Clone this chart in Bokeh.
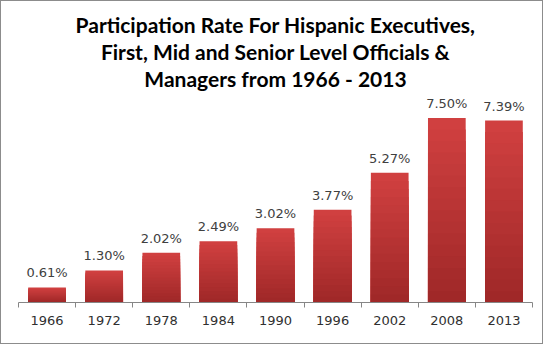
from bokeh.plotting import figure
from bokeh.models import ColumnDataSource, LabelSet, FixedTicker, Range1d, Title
from bokeh.core.properties import value
from bokeh.embed import file_html
from bokeh.resources import INLINE

years = ["1966", "1972", "1978", "1984", "1990", "1996", "2002", "2008", "2013"]
rates = [0.61, 1.30, 2.02, 2.49, 3.02, 3.77, 5.27, 7.50, 7.39]
rate_labels = ["0.61%", "1.30%", "2.02%", "2.49%", "3.02%", "3.77%", "5.27%", "7.50%", "7.39%"]

title_lines = ["Participation Rate For Hispanic Executives,",
               "First, Mid and Senior Level Officials &",
               "Managers from 1966 - 2013"]

W, H = 543, 344
B_BOT = 43
PX_PER_UNIT = 24.5
est_frame_top = 90
y_end = (H - B_BOT - est_frame_top) / PX_PER_UNIT

xs = [i + 0.5 for i in range(len(years))]
src = ColumnDataSource(dict(x=xs, rate=rates, label=rate_labels))

p = figure(width=W, height=H, output_backend="svg", toolbar_location=None,
           x_range=Range1d(0, len(years)), y_range=Range1d(0, y_end),
           y_axis_location=None,
           min_border_left=17, min_border_right=12, min_border_bottom=B_BOT,
           min_border_top=0)
p.styles = {"border": "1px solid #8c8c8c"}
p.title = None
for line in reversed(title_lines):
    p.add_layout(Title(text=line, align="center", text_font="Lato", text_font_style="bold",
                       text_font_size="21px", text_color="#000000", text_line_height=1.0,
                       standoff=0, offset=0), "above")
# small blank spacer above the title block
p.add_layout(Title(text=" ", text_font_size="5px", standoff=0, offset=0), "above")
p.outline_line_color = None
p.grid.visible = False

# stepped vertical gradient for bars (lighter top, darker bottom)
top_rgb = (208, 64, 64)
bot_rgb = (160, 40, 40)
N = 16
for k in range(N):
    frac = (N - k) / N
    t = k / (N - 1)
    c = tuple(int(round(top_rgb[j] + (bot_rgb[j] - top_rgb[j]) * t)) for j in range(3))
    color = "#%02x%02x%02x" % c
    col = "top_%d" % k
    src.data[col] = [r * frac for r in rates]
    p.vbar(x="x", top=col, width=0.66, source=src, fill_color=color, line_color=None)

labels = LabelSet(x="x", y="rate", text="label", source=src, y_offset=7,
                  text_align="center", text_baseline="bottom",
                  text_font=value("DejaVu Sans"), text_font_size="13px", text_color="#404040")
p.add_layout(labels)

ax = p.xaxis[0]
ax.ticker = FixedTicker(ticks=xs, minor_ticks=list(range(len(years) + 1)))
ax.major_label_overrides = {x: y for x, y in zip(xs, years)}
ax.major_tick_in = 0
ax.major_tick_out = 0
ax.minor_tick_in = 0
ax.minor_tick_out = 5
ax.minor_tick_line_color = "#868686"
ax.axis_line_color = "#868686"
ax.major_label_standoff = 8
ax.major_label_text_font = "DejaVu Sans"
ax.major_label_text_font_size = "13px"
ax.major_label_text_color = "#303030"

open("out.html", "w").write(file_html(p, INLINE))
